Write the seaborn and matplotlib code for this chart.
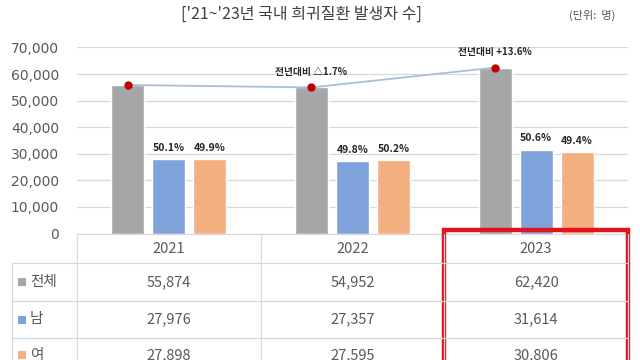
import matplotlib
matplotlib.use("Agg")
import matplotlib.pyplot as plt
import matplotlib.transforms as mtransforms
from matplotlib.patches import Rectangle
from matplotlib.lines import Line2D
import seaborn as sns
import pandas as pd

# ---- data ----
years = ["2021", "2022", "2023"]
groups = ["전체", "남", "여"]
total = [55874, 54952, 62420]
male = [27976, 27357, 31614]
female = [27898, 27595, 30806]
male_pct = ["50.1%", "49.8%", "50.6%"]
female_pct = ["49.9%", "50.2%", "49.4%"]
yoy_labels = ["", "전년대비 △1.7%", "전년대비 +13.6%"]
yticks = [0, 10000, 20000, 30000, 40000, 50000, 60000, 70000]
title = "['21~'23년 국내 희귀질환 발생자 수]"
unit = "(단위:  명)"

colors = ["#A6A6A6", "#7FA2DA", "#F4AF80"]

sns.set_theme(style="white")
plt.rcParams["font.family"] = ["Noto Sans CJK KR", "DejaVu Sans"]

rows = []
for i, y in enumerate(years):
    rows.append({"year": y, "group": groups[0], "value": total[i]})
    rows.append({"year": y, "group": groups[1], "value": male[i]})
    rows.append({"year": y, "group": groups[2], "value": female[i]})
df = pd.DataFrame(rows)

W, H = 640, 360
fig = plt.figure(figsize=(6.4, 3.6), dpi=100)
fig.patch.set_facecolor("white")
ax = fig.add_axes([77 / W, 1 - 233.6 / H, 551 / W, (233.6 - 47.4) / H])

sns.barplot(data=df, x="year", y="value", hue="group", order=years,
            hue_order=groups, palette=colors, width=0.67, gap=0.19,
            saturation=1, legend=False, ax=ax)

ax.set_xlim(-0.5, 2.5)
ax.set_ylim(0, 70000)
ax.set_yticks(yticks)
ax.set_yticklabels([f"{v:,}" for v in yticks], color="#595959", fontsize=10,
                   family=["DejaVu Sans"])
ax.tick_params(axis="y", length=0, pad=13)
ax.set_xticks([])
ax.set_xlabel("")
ax.set_ylabel("")
ax.yaxis.grid(True, color="#D9D9D9", lw=0.9)
ax.set_axisbelow(True)
for s in ["top", "right", "left"]:
    ax.spines[s].set_visible(False)
ax.spines["bottom"].set_color("#D9D9D9")
ax.spines["bottom"].set_linewidth(0.9)

# total line with markers on gray bars
gray_bars = ax.containers[0]
xs = [b.get_x() + b.get_width() / 2 for b in gray_bars]
ys = [b.get_height() for b in gray_bars]
ax.plot(xs, ys, color="#A9BFD8", lw=1.3, zorder=3)
ax.plot(xs, ys, "o", color="#C00000", ms=5, zorder=4)
for x, y, t in zip(xs, ys, yoy_labels):
    if t:
        ax.annotate(t, (x, y), xytext=(0, 11), textcoords="offset points",
                    ha="center", va="center", fontsize=7, fontweight="bold",
                    color="#262626")

# pct labels
for cont, labels in [(ax.containers[1], male_pct), (ax.containers[2], female_pct)]:
    for b, t in zip(cont, labels):
        ax.annotate(t, (b.get_x() + b.get_width() / 2, b.get_height()),
                    xytext=(0, 8), textcoords="offset points", ha="center",
                    va="center", fontsize=7.5, fontweight="bold", color="#262626")

# title
fig.text(301 / W, 1 - 14 / H, title, ha="center", va="center", fontsize=11.5,
         color="#404040")
fig.text(592 / W, 1 - 15 / H, unit, ha="center", va="center", fontsize=8,
         color="#595959")

# ---- data table ----
blend = mtransforms.blended_transform_factory(ax.transData, fig.transFigure)
def fy(px):
    return 1 - px / H

gc = "#D9D9D9"
tc = "#595959"
# horizontal lines
for py in [263, 301, 338]:
    fig.add_artist(Line2D([12 / W, 628 / W], [fy(py), fy(py)], color=gc, lw=0.9))
# vertical lines
for xv in [-0.5, 0.5, 1.5, 2.5]:
    fig.add_artist(Line2D([xv, xv], [fy(233.6), fy(365)], color=gc, lw=0.9,
                          transform=blend))
fig.add_artist(Line2D([12 / W, 12 / W], [fy(263), fy(365)], color=gc, lw=0.9))

# header
for i, y in enumerate(years):
    fig.text(i, fy(249), y, transform=blend, ha="center", va="center",
             fontsize=10.5, color=tc)
row_vals = [total, male, female]
row_y = [282, 319.5, 355]
for r, (vals, py) in enumerate(zip(row_vals, row_y)):
    for i, v in enumerate(vals):
        fig.text(i, fy(py), f"{v:,}", transform=blend, ha="center",
                 va="center", fontsize=10.5, color=tc)
    fig.add_artist(Rectangle((18 / W, fy(py) - 4 / H), 8 / W, 8 / H,
                             facecolor=colors[r], edgecolor="none"))
    fig.text(30 / W, fy(py), groups[r], ha="left", va="center",
             fontsize=10.5, color=tc)

# red highlight box around 2023
fig.add_artist(Rectangle((1.5, fy(372)), 1.0, (372 - 230) / H, transform=blend,
                         fill=False, edgecolor="#E0141E", lw=3.2, clip_on=False))

fig.savefig("out.png", dpi=100)
